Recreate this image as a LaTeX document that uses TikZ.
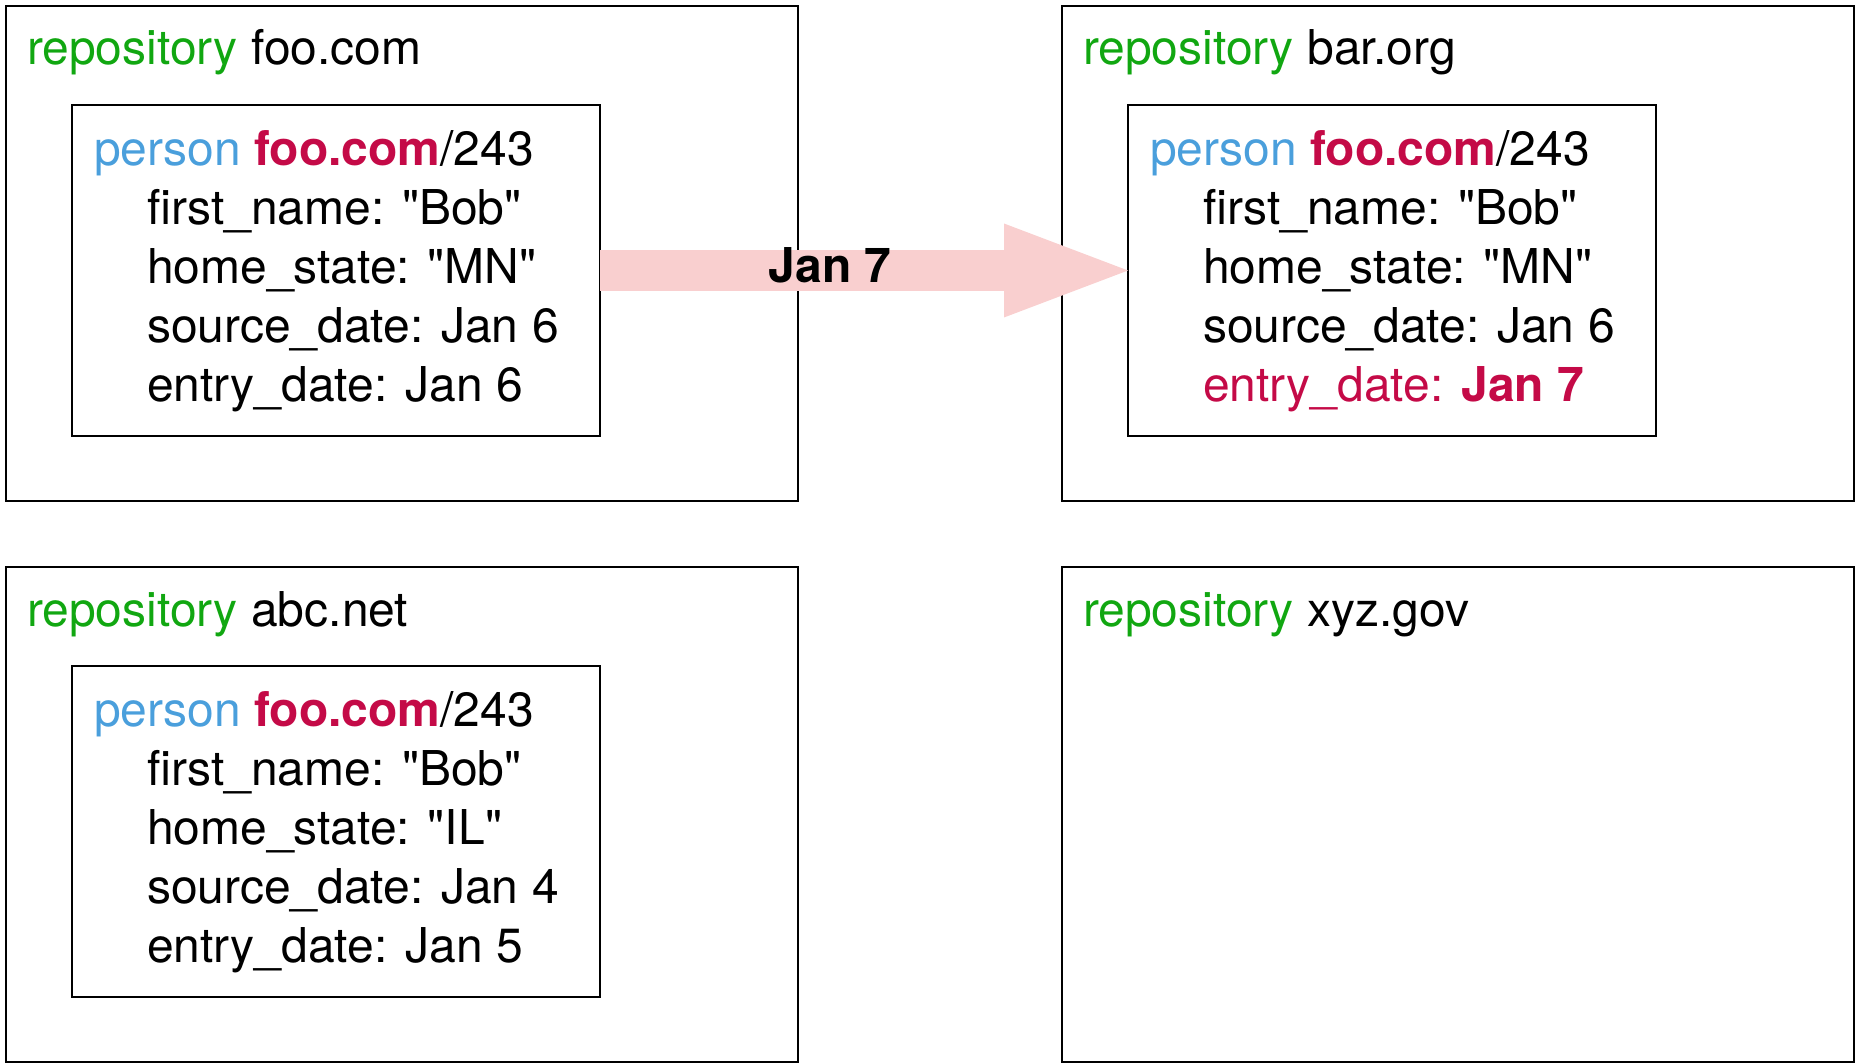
\documentclass[tikz,border=0pt]{standalone}
\usepackage{fontspec}
\setmainfont{TeX Gyre Heros}[Ligatures=TeXOff]
\usetikzlibrary{
  arrows.meta,
  calc,
  positioning,
}
\definecolor{repogreen}{RGB}{17,167,17}
\definecolor{personblue}{RGB}{74,159,220}
\definecolor{idred}{RGB}{196,10,71}
\definecolor{arrowpink}{RGB}{249,207,207}
\tikzset{
  x = 0.5pt,
  y = -0.5pt,
  repo/.style={
    draw, line width=1.1pt, minimum width=396pt, minimum height=247.5pt,
    inner sep=0pt, outer sep=0pt,
  },
  rec/.style={
    draw, line width=1.1pt, minimum width=264pt, minimum height=165.5pt,
    inner sep=0pt, outer sep=0pt,
  },
  txt/.style={
    anchor=base west, inner sep=0pt, outer sep=0pt, align=left,
    font=\fontsize{24}{29.5}\selectfont,
  },
  copyto/.style={
    draw=arrowpink, line width=20.5pt,
    -{Triangle[length=62pt,width=47pt,line width=0pt]},
  },
}
\newcommand{\repolabel}[1]{\textcolor{repogreen}{repository} #1}
\newcommand{\personhead}{\textcolor{personblue}{person} \textcolor{idred}{\bfseries foo.com}/243}
\newcommand{\fld}{\hspace*{26.5pt}}

\begin{document}
\begin{tikzpicture}
  \useasboundingbox (0,0) rectangle (1857,1063);
  \node[repo, anchor=north west](RepoFoo) at (6,6) {};
  \node[repo, right=132pt of RepoFoo](RepoBar) {};
  \node[repo, below=33pt of RepoFoo](RepoAbc) {};
  \node[repo, below=33pt of RepoBar](RepoXyz) {};
  %% repository names
  \node[txt](LblFoo) at ([shift={(10.5pt,-29.5pt)}]RepoFoo.north west) {\repolabel{foo.com}};
  \node[txt](LblBar) at ([shift={(10.5pt,-29.5pt)}]RepoBar.north west) {\repolabel{bar.org}};
  \node[txt](LblAbc) at ([shift={(10.5pt,-29.5pt)}]RepoAbc.north west) {\repolabel{abc.net}};
  \node[txt](LblXyz) at ([shift={(10.5pt,-29.5pt)}]RepoXyz.north west) {\repolabel{xyz.gov}};
  %% person records (base of a node = baseline of its last line)
  \node[rec, anchor=north west](RecFoo) at ([shift={(33pt,-49.5pt)}]RepoFoo.north west) {};
  \node[rec, anchor=north west](RecBar) at ([shift={(33pt,-49.5pt)}]RepoBar.north west) {};
  \node[rec, anchor=north west](RecAbc) at ([shift={(33pt,-49.5pt)}]RepoAbc.north west) {};
  \node[txt](TxtFoo) at ([shift={(11pt,-148.3pt)}]RecFoo.north west) {\personhead\\
    \fld first\_name: "Bob"\\
    \fld home\_state: "MN"\\
    \fld source\_date: Jan 6\\
    \fld entry\_date: Jan 6};
  \node[txt](TxtBar) at ([shift={(11pt,-148.3pt)}]RecBar.north west) {\personhead\\
    \fld first\_name: "Bob"\\
    \fld home\_state: "MN"\\
    \fld source\_date: Jan 6\\
    \fld\textcolor{idred}{entry\_date: \bfseries Jan 7}};
  \node[txt](TxtAbc) at ([shift={(11pt,-148.3pt)}]RecAbc.north west) {\personhead\\
    \fld first\_name: "Bob"\\
    \fld home\_state: "IL"\\
    \fld source\_date: Jan 4\\
    \fld entry\_date: Jan 5};
  %%
  \draw[copyto](RecFoo.east) -- node[pos=.436, anchor=base, yshift=-6pt,
    inner sep=0pt, font=\fontsize{24}{29.5}\selectfont\bfseries]{Jan 7} (RecBar.west);
\end{tikzpicture}
\end{document}
